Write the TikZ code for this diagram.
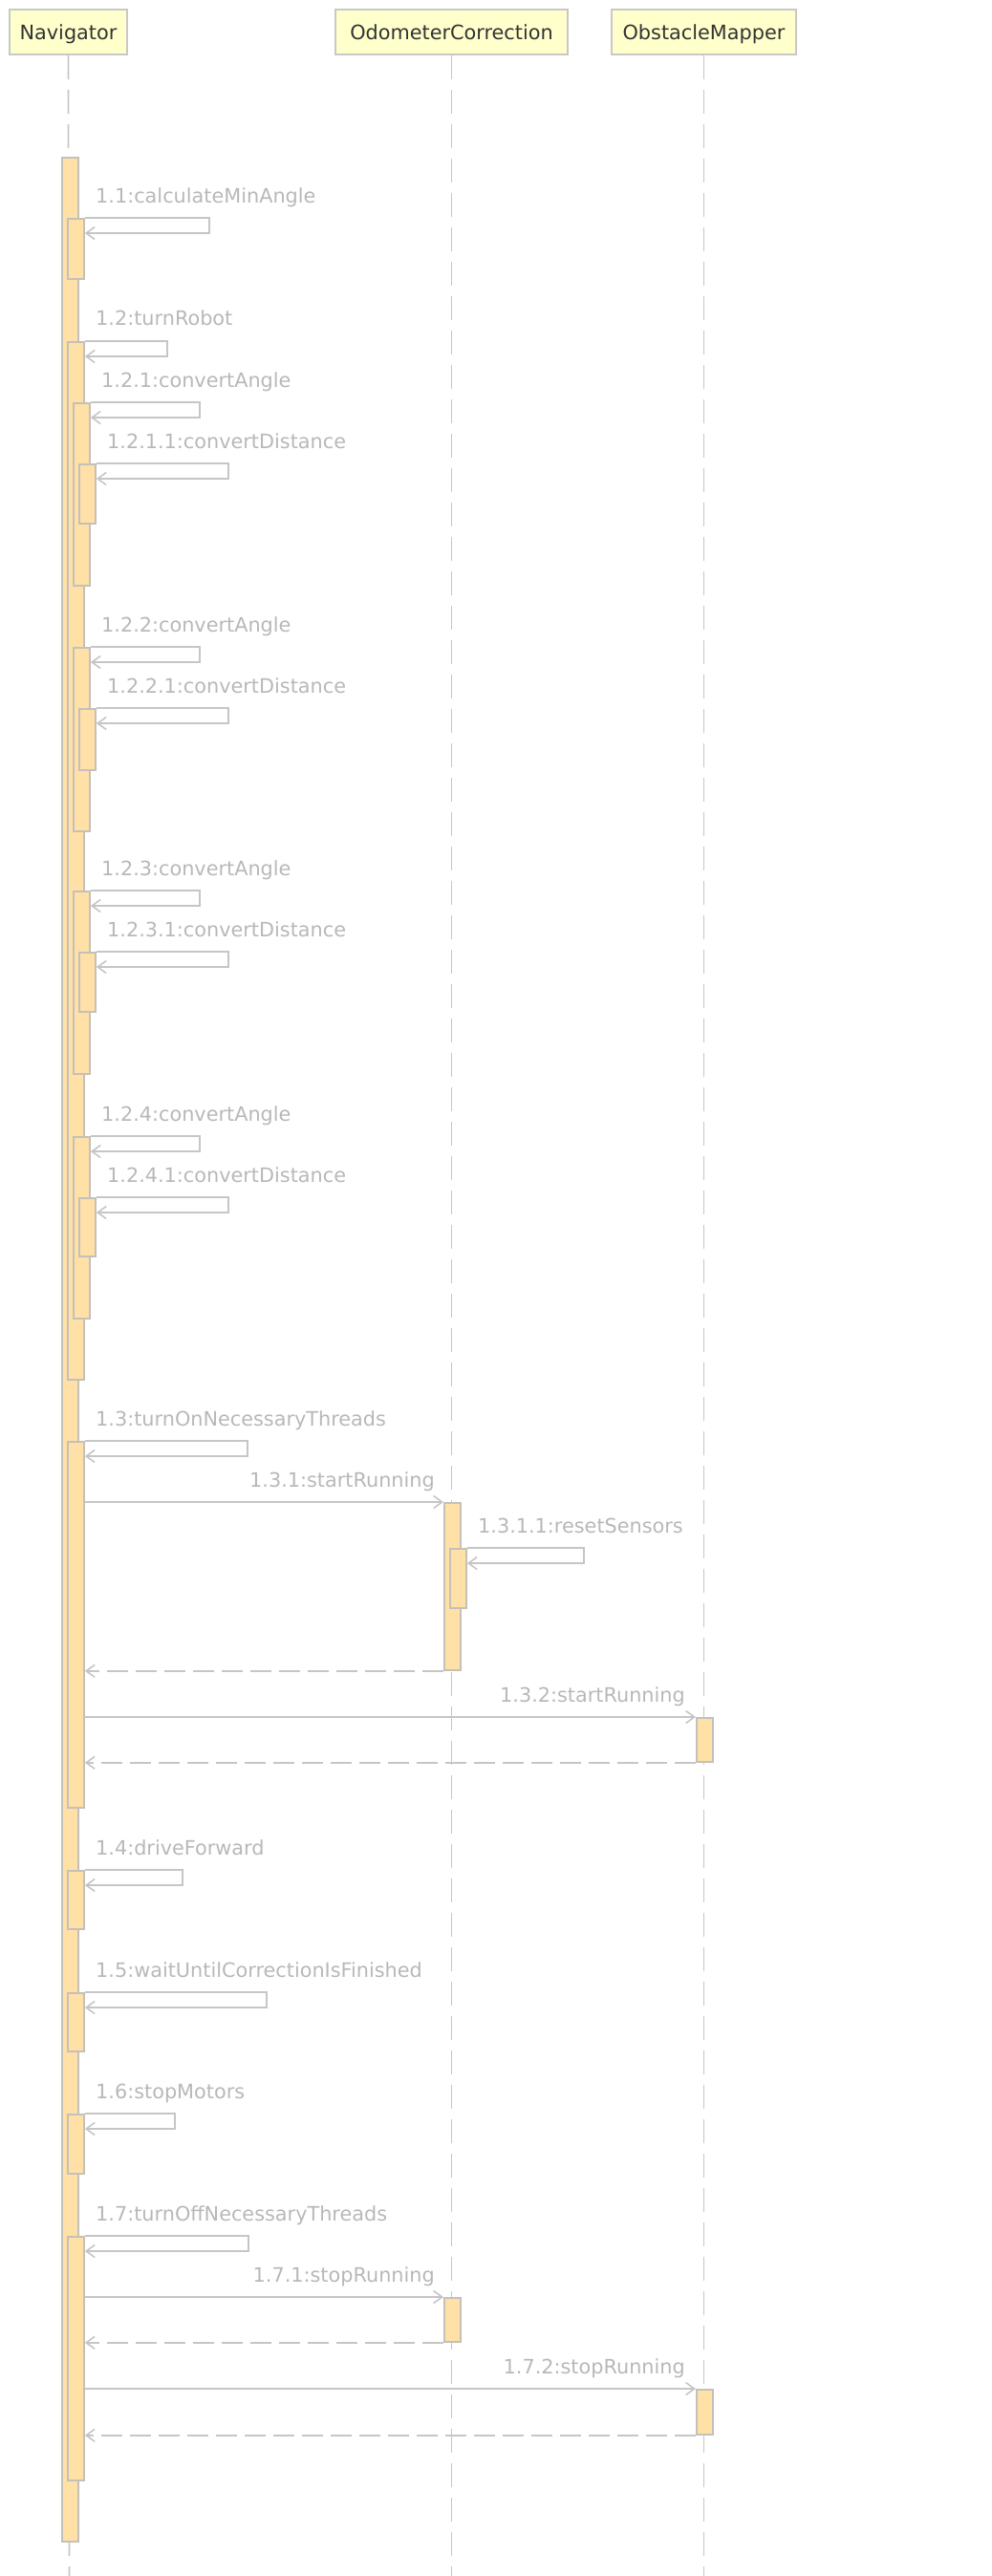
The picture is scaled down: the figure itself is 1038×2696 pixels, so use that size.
\documentclass[tikz,border=0pt]{standalone}
\usepackage{fontspec}
\setmainfont{DejaVu Sans}
\usetikzlibrary{arrows.meta}
\definecolor{linec}{RGB}{198,198,198}
\definecolor{barfill}{RGB}{255,224,166}
\definecolor{barline}{RGB}{196,192,186}
\definecolor{labc}{RGB}{184,184,184}
\definecolor{headfill}{RGB}{255,255,204}
\definecolor{headline}{RGB}{200,200,200}
\definecolor{headtext}{RGB}{51,51,51}
\tikzset{
  head/.style={draw=headline, line width=2pt, fill=headfill, text=headtext, minimum height=47pt,
    inner sep=0pt, text height=16pt, text depth=0pt, font=\fontsize{20.8}{24}\selectfont},
  life/.style={draw=linec, line width=1.6pt, dash pattern=on 25pt off 11pt},
  actbox/.style={draw=barline, line width=1.8pt, fill=barfill, minimum width=17pt, inner sep=0pt},
  msg/.style={draw=linec, line width=1.6pt, -{Straight Barb[length=9pt,width=13pt]}},
  ret/.style={msg, dash pattern=on 22pt off 8pt},
  lab/.style={text=labc, font=\fontsize{20.8}{24}\selectfont, inner sep=0pt},
}
\newcommand\actbar[4]{\node[actbox, minimum height={#4pt-#3pt}, anchor=north west] (#1) at (#2,#3) {};}
\newcommand\selfmsg[2]{\draw[msg] (#1.north east) -- ++(#2,0) -- ++(0,16) -- ([yshift=-16pt]#1.north east);}
\begin{document}
\begin{tikzpicture}[x=1pt,y=-1pt]
\useasboundingbox (0,0) rectangle (1038,2696);
% headers
\node[head, minimum width=123pt] (nav) at (71.5,33.5) {Navigator};
\node[head, minimum width=243pt] (odo) at (472.5,33.5) {OdometerCorrection};
\node[head, minimum width=193pt] (obs) at (736.5,33.5) {ObstacleMapper};
% lifelines
\coordinate (navend) at (72.5,2696);
\coordinate (odoend) at (472.5,2696);
\coordinate (obsend) at (736.5,2696);
\draw[life] (nav.south) -- (navend);
\draw[life] (odo.south) -- (odoend);
\draw[life] (obs.south) -- (obsend);
% activation bars
\actbar{n0}{64}{164}{2659}
\actbar{b11}{70}{228}{291}
\actbar{b12}{70}{357}{1443}
\actbar{b121}{76}{421}{612}
\actbar{b1211}{82}{485}{547}
\actbar{b122}{76}{677}{869}
\actbar{b1221}{82}{741}{805}
\actbar{b123}{76}{932}{1123}
\actbar{b1231}{82}{996}{1058}
\actbar{b124}{76}{1189}{1379}
\actbar{b1241}{82}{1253}{1314}
\actbar{b13}{70}{1508}{1891}
\actbar{o131}{464}{1572}{1747}
\actbar{o1311}{470}{1620}{1682}
\actbar{m132}{728}{1797}{1843}
\actbar{b14}{70}{1957}{2018}
\actbar{b15}{70}{2085}{2146}
\actbar{b16}{70}{2212}{2274}
\actbar{b17}{70}{2340}{2595}
\actbar{o171}{464}{2404}{2450}
\actbar{m172}{728}{2500}{2547}
% self messages
\selfmsg{b11}{130}
\selfmsg{b12}{86}
\selfmsg{b121}{114}
\selfmsg{b1211}{138}
\selfmsg{b122}{114}
\selfmsg{b1221}{138}
\selfmsg{b123}{114}
\selfmsg{b1231}{138}
\selfmsg{b124}{114}
\selfmsg{b1241}{138}
\selfmsg{b13}{170}
\selfmsg{o1311}{122}
\selfmsg{b14}{102}
\selfmsg{b15}{190}
\selfmsg{b16}{94}
\selfmsg{b17}{171}
% calls to other lifelines
\draw[msg] (b13.east |- o131.north) -- (o131.north west);
\draw[ret] (o131.south west) -- (b13.east |- o131.south);
\draw[msg] (b13.east |- m132.north) -- (m132.north west);
\draw[ret] (m132.south west) -- (b13.east |- m132.south);
\draw[msg] (b17.east |- o171.north) -- (o171.north west);
\draw[ret] (o171.south west) -- (b17.east |- o171.south);
\draw[msg] (b17.east |- m172.north) -- (m172.north west);
\draw[ret] (m172.south west) -- (b17.east |- m172.south);
% labels
\node[lab, anchor=base west] (l11) at (100,212) {1.1:calculateMinAngle};
\node[lab, anchor=base west] (l12) at (100,340) {1.2:turnRobot};
\node[lab, anchor=base west] (l121) at (106,405) {1.2.1:convertAngle};
\node[lab, anchor=base west] (l1211) at (112,469) {1.2.1.1:convertDistance};
\node[lab, anchor=base west] (l122) at (106,661) {1.2.2:convertAngle};
\node[lab, anchor=base west] (l1221) at (112,725) {1.2.2.1:convertDistance};
\node[lab, anchor=base west] (l123) at (106,916) {1.2.3:convertAngle};
\node[lab, anchor=base west] (l1231) at (112,980) {1.2.3.1:convertDistance};
\node[lab, anchor=base west] (l124) at (106,1173) {1.2.4:convertAngle};
\node[lab, anchor=base west] (l1241) at (112,1237) {1.2.4.1:convertDistance};
\node[lab, anchor=base west] (l13) at (100,1492) {1.3:turnOnNecessaryThreads};
\node[lab, anchor=base east] (l131) at (455,1556) {1.3.1:startRunning};
\node[lab, anchor=base west] (l1311) at (500,1604) {1.3.1.1:resetSensors};
\node[lab, anchor=base east] (l132) at (717,1781) {1.3.2:startRunning};
\node[lab, anchor=base west] (l14) at (100,1941) {1.4:driveForward};
\node[lab, anchor=base west] (l15) at (100,2069) {1.5:waitUntilCorrectionIsFinished};
\node[lab, anchor=base west] (l16) at (100,2196) {1.6:stopMotors};
\node[lab, anchor=base west] (l17) at (100,2324) {1.7:turnOffNecessaryThreads};
\node[lab, anchor=base east] (l171) at (455,2388) {1.7.1:stopRunning};
\node[lab, anchor=base east] (l172) at (717,2484) {1.7.2:stopRunning};
\end{tikzpicture}
\end{document}
